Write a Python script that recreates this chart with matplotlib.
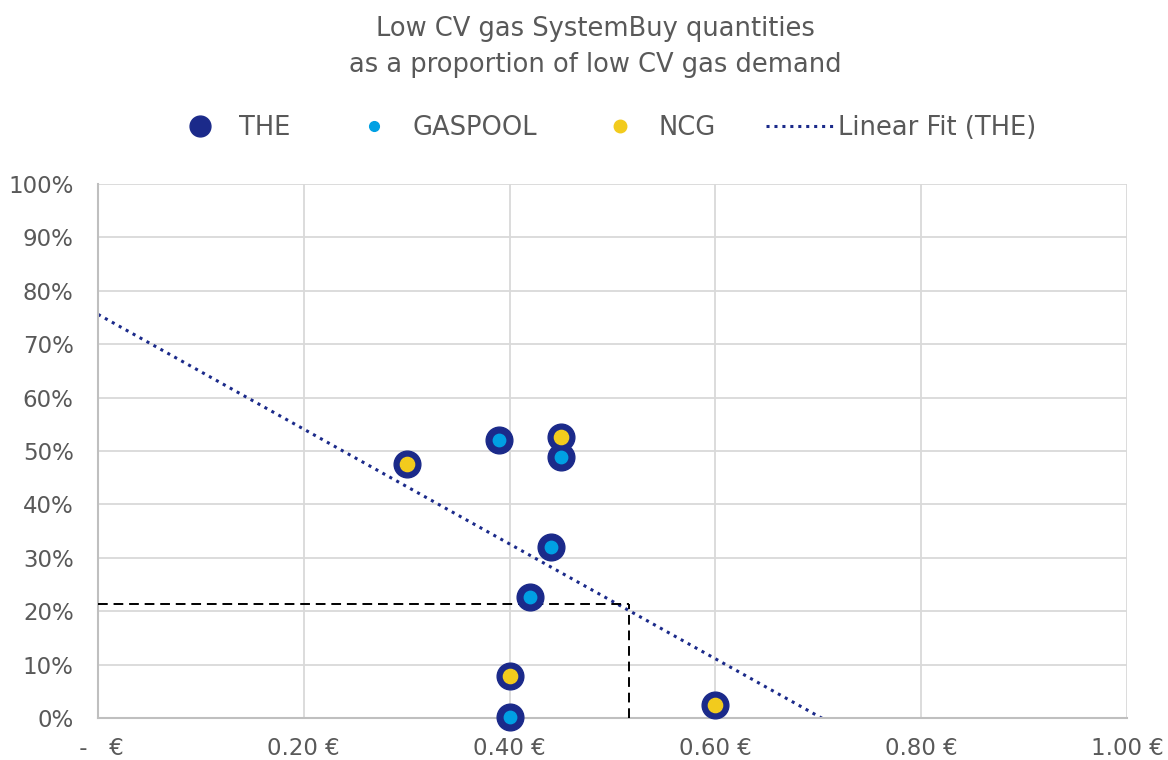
import numpy as np
import matplotlib.pyplot as plt
from matplotlib.lines import Line2D
from matplotlib.ticker import FuncFormatter

plt.rcParams['font.family'] = ['DejaVu Sans']

# SystemBuy price (EUR) and proportion of demand (%)
the_x = [0.30, 0.39, 0.45, 0.45, 0.44, 0.42, 0.40, 0.40, 0.60]
the_y = [47.6, 52.1, 52.6, 48.9, 32.0, 22.7, 7.9, 0.2, 2.4]

gaspool_x = [0.39, 0.45, 0.44, 0.42, 0.40]
gaspool_y = [52.1, 48.9, 32.0, 22.7, 0.2]

ncg_x = [0.30, 0.45, 0.40, 0.60]
ncg_y = [47.6, 52.6, 7.9, 2.4]

# guide point marked with dashed lines
guide_x = 0.516
guide_y = 21.3

xticks = [0, 0.2, 0.4, 0.6, 0.8, 1.0]
yticks = list(range(0, 101, 10))

navy = '#1B2A8A'
light_blue = '#00A0E3'
yellow = '#F2CB1D'
text_col = '#595959'

fig = plt.figure(figsize=(11.68, 7.6), dpi=100)
ax = fig.add_axes([0.0839, 0.0553, 0.881, 0.7026])

# linear fit of THE points
slope, icpt = np.polyfit(the_x, the_y, 1)
fx = np.linspace(0, 1, 200)
ax.plot(fx, slope * fx + icpt, linestyle=(0, (1, 1.6)), color=navy, lw=2.2, zorder=2)

# dashed guide lines
ax.plot([0, guide_x], [guide_y, guide_y], '--', color='black', lw=1.4, dashes=(5, 3), zorder=3)
ax.plot([guide_x, guide_x], [0, guide_y], '--', color='black', lw=1.4, dashes=(5, 3), zorder=3)

ax.scatter(the_x, the_y, s=370, color=navy, zorder=4, clip_on=False)
ax.scatter(gaspool_x, gaspool_y, s=80, color=light_blue, zorder=5, clip_on=False)
ax.scatter(ncg_x, ncg_y, s=105, color=yellow, zorder=5, clip_on=False)

ax.set_xlim(0, 1)
ax.set_ylim(0, 100)
ax.set_xticks(xticks)
ax.set_yticks(yticks)
ax.xaxis.set_major_formatter(FuncFormatter(lambda v, p: ' -   €' if v == 0 else f'{v:.2f} €'))
ax.yaxis.set_major_formatter(FuncFormatter(lambda v, p: f'{v:.0f}%'))
ax.tick_params(length=0, labelsize=16.5, colors=text_col)
ax.tick_params(axis='x', pad=14)
ax.tick_params(axis='y', pad=17.5)
ax.grid(True, color='#D9D9D9', lw=1.3)
ax.set_axisbelow(True)
for s in ['top', 'right']:
    ax.spines[s].set_visible(False)
for s in ['left', 'bottom']:
    ax.spines[s].set_color('#BFBFBF')
    ax.spines[s].set_linewidth(1.5)

fig.text(0.51, 0.9388, 'Low CV gas SystemBuy quantities\nas a proportion of low CV gas demand',
         ha='center', va='center', fontsize=18.5, color=text_col, linespacing=1.5)

handles = [
    Line2D([], [], marker='o', ls='', color=navy, markersize=15),
    Line2D([], [], marker='o', ls='', color=light_blue, markersize=7),
    Line2D([], [], marker='o', ls='', color=yellow, markersize=9),
    Line2D([], [], linestyle=(0, (1, 1.6)), color=navy, lw=2.2),
]
labels = ['THE', 'GASPOOL', 'NCG', 'Linear Fit (THE)']
leg = fig.legend(handles, labels, loc='center', bbox_to_anchor=(0.515, 0.832), ncol=4,
                 frameon=False, fontsize=18.5, handlelength=2.6, columnspacing=1.95,
                 handletextpad=0.2)
for t in leg.get_texts():
    t.set_color(text_col)

fig.savefig('out.png', dpi=100)
